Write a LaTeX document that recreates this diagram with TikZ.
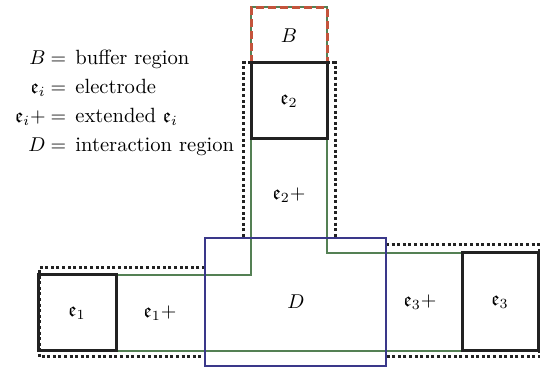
\documentclass[tikz,border=0pt]{standalone}
\usepackage{amssymb}
\definecolor{extgreen}{RGB}{84,128,84}
\definecolor{bufred}{RGB}{196,84,60}
\definecolor{dblue}{RGB}{58,56,138}
\definecolor{eblack}{RGB}{34,34,34}
\begin{document}
\begin{tikzpicture}[x=0.5pt,y=-0.5pt,
  font=\fontsize{10.3}{12.4}\selectfont,
  extline/.style={draw=extgreen, line width=0.8pt},
  dotline/.style={draw=eblack, line width=1.5pt, dash pattern=on 1.5pt off 1.3pt},
  bufline/.style={draw=bufred, line width=1.5pt, dash pattern=on 4pt off 2pt},
  ebox/.style={draw=eblack, line width=1.5pt},
  dbox/.style={draw=dblue, line width=1.3pt},
  lbl/.style={inner sep=0pt},
  symb/.style={inner sep=0pt, anchor=base east},
  eqs/.style={inner sep=0pt, anchor=base},
  desc/.style={inner sep=0pt, anchor=base west}]
\useasboundingbox (0,0) rectangle (540,367);
% extended region outline (green)
\draw[extline] (251,7) -- (327,7) -- (327,253) -- (538,253) -- (538,351) -- (38,351) -- (38,275) -- (251,275) -- cycle;
% dotted outlines
\draw[dotline] (243,237) -- (243,63) -- (335,63) -- (335,237);
\draw[dotline] (205,268) -- (39,268) -- (39,357) -- (205,357);
\draw[dotline] (386,245) -- (539,245) -- (539,357) -- (386,357);
% buffer region
\draw[bufline] (251,63) -- (251,8) -- (327,8) -- (327,63) -- cycle;
% electrodes
\draw[ebox] (251,63) rectangle (327,139);
\draw[ebox] (38,275) rectangle (116,351);
\draw[ebox] (462,253) rectangle (538,351);
% interaction region
\draw[dbox] (205,238) rectangle (386,366);
% labels
\node[lbl] (B) at (289,36) {$B$};
\node[lbl] (e2) at (289,101) {$\mathfrak{e}_2$};
\node[lbl] (e2p) at (289,195) {$\mathfrak{e}_2+$};
\node[lbl] (e1) at (77,313) {$\mathfrak{e}_1$};
\node[lbl] (e1p) at (160,313) {$\mathfrak{e}_1+$};
\node[lbl] (D) at (296,302) {$D$};
\node[lbl] (e3p) at (420,302) {$\mathfrak{e}_3+$};
\node[lbl] (e3) at (500,302) {$\mathfrak{e}_3$};
% legend
\node[symb] (lB) at (46,65) {$B$};
\node[eqs] (qB) at (58.5,65) {$=$};
\node[desc] (dB) at (75,65) {buffer region};
\node[symb] (le) at (46,94) {$\mathfrak{e}_i$};
\node[eqs] (qe) at (58.5,94) {$=$};
\node[desc] (de) at (75,94) {electrode};
\node[symb] (lep) at (46,123) {$\mathfrak{e}_i+$};
\node[eqs] (qep) at (58.5,123) {$=$};
\node[desc] (dep) at (75,123) {extended $\mathfrak{e}_i$};
\node[symb] (lD) at (46,152) {$D$};
\node[eqs] (qD) at (58.5,152) {$=$};
\node[desc] (dD) at (75,152) {interaction region};
\end{tikzpicture}
\end{document}
